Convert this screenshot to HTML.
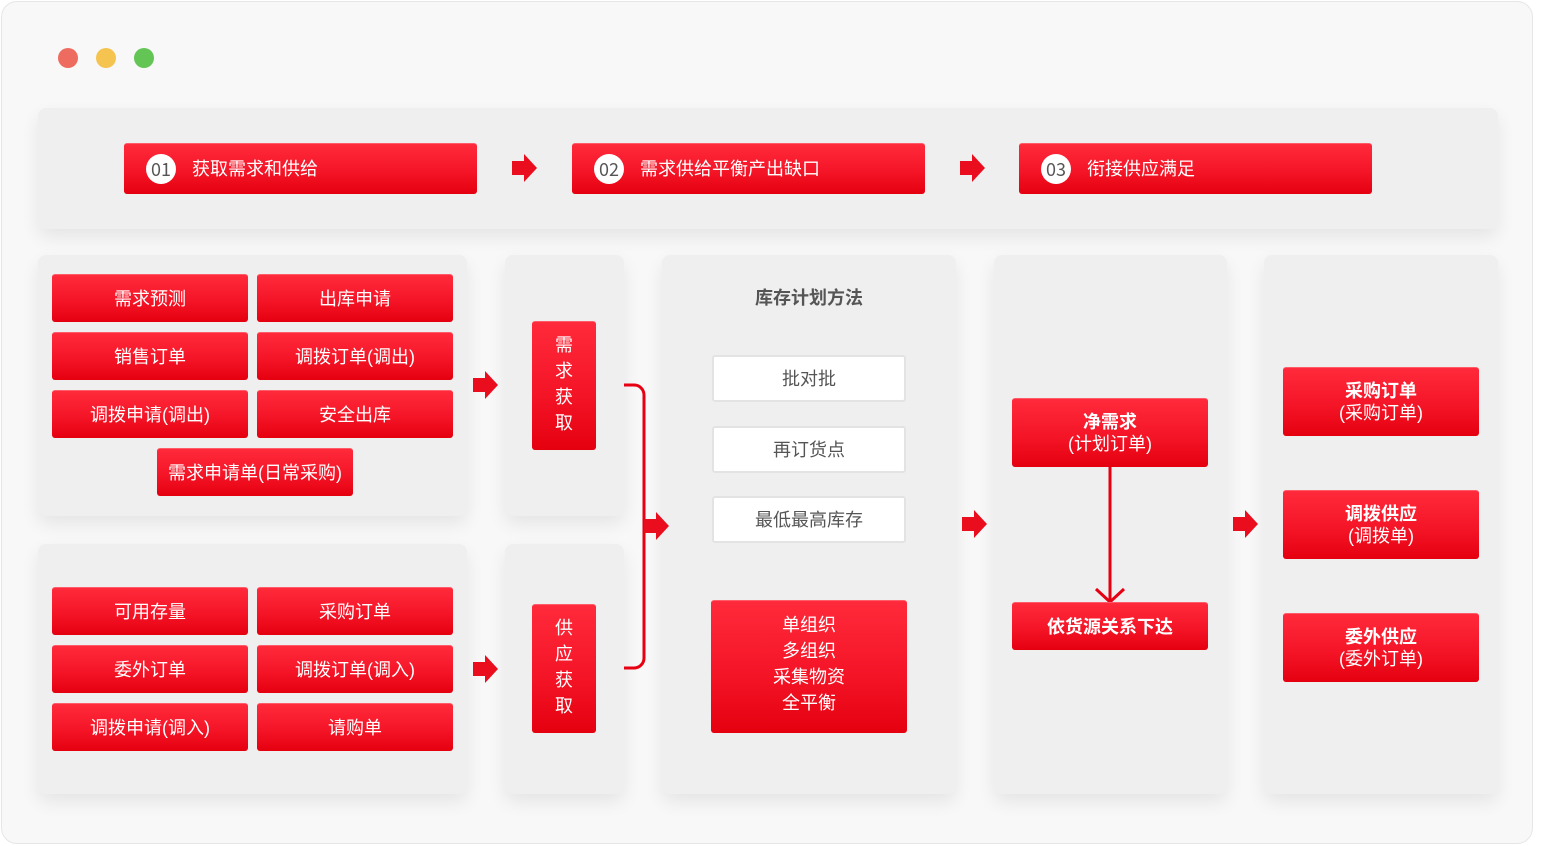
<!DOCTYPE html>
<html><head><meta charset="utf-8">
<style>
*{margin:0;padding:0;box-sizing:border-box}
html,body{width:1542px;height:846px;background:#fff;overflow:hidden}
body{position:relative;font-family:"Liberation Sans","Noto Sans CJK SC",sans-serif}
.win{position:absolute;left:1px;top:1px;width:1532px;height:843px;border:1.5px solid #e6e6e6;border-radius:16px;background:#f8f8f8}
.dot{position:absolute;width:20px;height:20px;border-radius:50%;top:48px}
.panel{position:absolute;background:#efefef;border-radius:8px;box-shadow:0 8px 18px rgba(0,0,0,0.08)}
.r{position:absolute;background:linear-gradient(180deg,#ff2a3b 0%,#f41527 55%,#e5000f 100%);border-radius:3px;color:#fff;font-size:18px;display:flex;align-items:center;justify-content:center;text-align:center;border-top:1px solid #ff5b68;padding-bottom:2px}
.w{position:absolute;background:#fff;border:2px solid #e3e3e3;border-radius:3px;color:#555;font-size:18px;display:flex;align-items:center;justify-content:center;padding-bottom:1px}
.step{position:absolute;top:143px;height:51px;width:353px;background:linear-gradient(180deg,#ff2a3b 0%,#f41527 55%,#e5000f 100%);border-radius:3px;color:#fff;font-size:18px;border-top:1px solid #ff5b68}
.step .c{position:absolute;left:22px;top:10px;width:30px;height:30px;border-radius:50%;background:#fff;color:#555;font-size:18px;line-height:30px;text-align:center;font-family:"Noto Sans CJK SC","Liberation Sans",sans-serif}
.step .t{position:absolute;left:68px;top:0;height:50px;line-height:50px}
.arr{position:absolute;width:25px;height:28px}
.v{flex-direction:column;line-height:26px;padding-bottom:5px}
.m{padding-bottom:7px}
.two{flex-direction:column;line-height:22.5px;padding-bottom:0}
.two b{font-weight:700}
</style></head><body>
<div class="win"></div>
<div class="dot" style="left:58px;background:#ee6b60"></div>
<div class="dot" style="left:96px;background:#f5c350"></div>
<div class="dot" style="left:134px;background:#62c554"></div>

<div class="panel" style="left:38px;top:108px;width:1460px;height:121px"></div>
<div class="step" style="left:124px"><div class="c">01</div><div class="t">获取需求和供给</div></div>
<div class="step" style="left:572px"><div class="c">02</div><div class="t">需求供给平衡产出缺口</div></div>
<div class="step" style="left:1019px"><div class="c">03</div><div class="t">衔接供应满足</div></div>

<svg class="arr" style="left:512px;top:154px" viewBox="0 0 25 28"><polygon points="0,7 12,7 12,0 25,14 12,28 12,21 0,21" fill="#ea0d1e"/></svg>
<svg class="arr" style="left:960px;top:154px" viewBox="0 0 25 28"><polygon points="0,7 12,7 12,0 25,14 12,28 12,21 0,21" fill="#ea0d1e"/></svg>

<div class="panel" style="left:38px;top:255px;width:429px;height:261px"></div>
<div class="panel" style="left:38px;top:544px;width:429px;height:250px"></div>
<div class="panel" style="left:505px;top:255px;width:119px;height:261px"></div>
<div class="panel" style="left:505px;top:544px;width:119px;height:250px"></div>
<div class="panel" style="left:662px;top:255px;width:294px;height:539px"></div>
<div class="panel" style="left:994px;top:255px;width:233px;height:539px"></div>
<div class="panel" style="left:1264px;top:255px;width:234px;height:539px"></div>

<div class="r" style="left:52px;top:274px;width:196px;height:48px">需求预测</div>
<div class="r" style="left:257px;top:274px;width:196px;height:48px">出库申请</div>
<div class="r" style="left:52px;top:332px;width:196px;height:48px">销售订单</div>
<div class="r" style="left:257px;top:332px;width:196px;height:48px">调拨订单(调出)</div>
<div class="r" style="left:52px;top:390px;width:196px;height:48px">调拨申请(调出)</div>
<div class="r" style="left:257px;top:390px;width:196px;height:48px">安全出库</div>
<div class="r" style="left:157px;top:448px;width:196px;height:48px">需求申请单(日常采购)</div>

<div class="r" style="left:52px;top:587px;width:196px;height:48px">可用存量</div>
<div class="r" style="left:257px;top:587px;width:196px;height:48px">采购订单</div>
<div class="r" style="left:52px;top:645px;width:196px;height:48px">委外订单</div>
<div class="r" style="left:257px;top:645px;width:196px;height:48px">调拨订单(调入)</div>
<div class="r" style="left:52px;top:703px;width:196px;height:48px">调拨申请(调入)</div>
<div class="r" style="left:257px;top:703px;width:196px;height:48px">请购单</div>

<svg class="arr" style="left:473px;top:371px" viewBox="0 0 25 28"><polygon points="0,7 12,7 12,0 25,14 12,28 12,21 0,21" fill="#ea0d1e"/></svg>
<svg class="arr" style="left:473px;top:655px" viewBox="0 0 25 28"><polygon points="0,7 12,7 12,0 25,14 12,28 12,21 0,21" fill="#ea0d1e"/></svg>

<div class="r v" style="left:532px;top:321px;width:64px;height:129px"><span>需</span><span>求</span><span>获</span><span>取</span></div>
<div class="r v" style="left:532px;top:604px;width:64px;height:129px"><span>供</span><span>应</span><span>获</span><span>取</span></div>

<svg style="position:absolute;left:0;top:0" width="1542" height="846">
<path d="M624,385 H634 A10,10 0 0 1 644,395 V658 A10,10 0 0 1 634,668 H624" fill="none" stroke="#e60012" stroke-width="3"/>
<line x1="1110" y1="467" x2="1110" y2="601" stroke="#e60012" stroke-width="3"/>
<polyline points="1096,589 1110,602 1124,589" fill="none" stroke="#e60012" stroke-width="3"/>
</svg>
<svg class="arr" style="left:644px;top:512px" viewBox="0 0 25 28"><polygon points="0,7 12,7 12,0 25,14 12,28 12,21 0,21" fill="#ea0d1e"/></svg>

<div style="position:absolute;left:662px;top:284px;width:294px;text-align:center;font-size:18px;font-weight:700;color:#555;line-height:28px">库存计划方法</div>
<div class="w" style="left:712px;top:355px;width:194px;height:47px">批对批</div>
<div class="w" style="left:712px;top:426px;width:194px;height:47px">再订货点</div>
<div class="w" style="left:712px;top:496px;width:194px;height:47px">最低最高库存</div>
<div class="r v m" style="left:711px;top:600px;width:196px;height:133px"><span>单组织</span><span>多组织</span><span>采集物资</span><span>全平衡</span></div>

<svg class="arr" style="left:962px;top:510px" viewBox="0 0 25 28"><polygon points="0,7 12,7 12,0 25,14 12,28 12,21 0,21" fill="#ea0d1e"/></svg>

<div class="r two" style="left:1012px;top:398px;width:196px;height:69px"><b>净需求</b><span>(计划订单)</span></div>
<div class="r" style="left:1012px;top:602px;width:196px;height:48px;font-weight:700">依货源关系下达</div>

<svg class="arr" style="left:1233px;top:510px" viewBox="0 0 25 28"><polygon points="0,7 12,7 12,0 25,14 12,28 12,21 0,21" fill="#ea0d1e"/></svg>

<div class="r two" style="left:1283px;top:367px;width:196px;height:69px"><b>采购订单</b><span>(采购订单)</span></div>
<div class="r two" style="left:1283px;top:490px;width:196px;height:69px"><b>调拨供应</b><span>(调拨单)</span></div>
<div class="r two" style="left:1283px;top:613px;width:196px;height:69px"><b>委外供应</b><span>(委外订单)</span></div>
</body></html>
